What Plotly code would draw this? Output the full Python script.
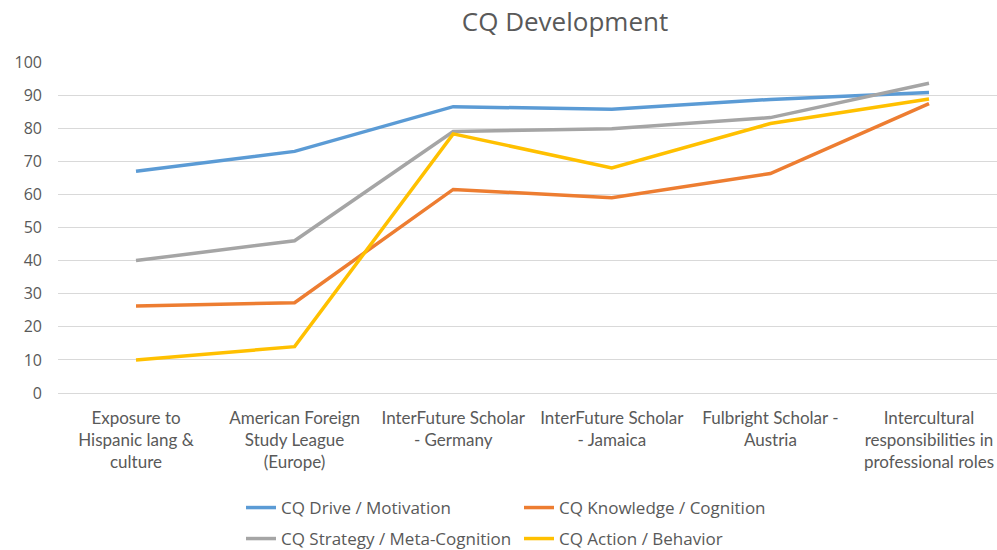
import plotly.graph_objects as go

categories = [
    "Exposure to<br>Hispanic lang &<br>culture",
    "American Foreign<br>Study League<br>(Europe)",
    "InterFuture Scholar<br>- Germany",
    "InterFuture Scholar<br>- Jamaica",
    "Fulbright Scholar -<br>Austria",
    "Intercultural<br>responsibilities in<br>professional roles",
]
drive = [67, 73, 86.5, 85.7, 88.7, 90.8]
knowledge = [26.3, 27.3, 61.5, 59, 66.3, 87.4]
strategy = [40, 46, 79, 79.8, 83.2, 93.6]
action = [10, 14, 78.3, 68, 81.4, 88.8]

series = [
    ("CQ Drive / Motivation", drive, "#5B9BD5", "legend"),
    ("CQ Knowledge / Cognition", knowledge, "#ED7D31", "legend"),
    ("CQ Strategy / Meta-Cognition", strategy, "#A5A5A5", "legend2"),
    ("CQ Action / Behavior", action, "#FFC000", "legend2"),
]

x_idx = list(range(len(categories)))
fig = go.Figure()
for name, vals, color, lg in series:
    fig.add_trace(go.Scatter(x=x_idx, y=vals, mode="lines", name=name,
                             line=dict(color=color, width=3.5), legend=lg))

# the page body margin is removed (post_script below), so figure px == page px
W, H = 997, 550
L, R, T = 58, 0, 62
B = H - 393
pw = W - L - R

def px_x(p):
    return (p - L) / pw

def cy(p):
    return 1 - p / H

legend_font = dict(family="Open Sans, Noto Sans, sans-serif", size=17, color="#595959")

fig.update_layout(
    width=W, height=H,
    margin=dict(l=L, r=R, t=T, b=B, autoexpand=False),
    paper_bgcolor="white", plot_bgcolor="white",
    title=dict(text="CQ Development", x=565 / W, xanchor="center",
               y=cy(22), yanchor="middle",
               font=dict(family="Open Sans, Noto Sans, sans-serif", size=26, color="#595959")),
    xaxis=dict(
        tickmode="array", tickvals=x_idx, ticktext=categories,
        range=[(58 - 136) / 158.6, (997 - 136) / 158.6],
        showgrid=False, zeroline=False, showline=False, ticks="",
        ticklabelstandoff=13,
        tickfont=dict(family="Lato, sans-serif", size=17, color="#595959"),
        tickangle=0,
    ),
    yaxis=dict(
        range=[0, 100], tickvals=list(range(0, 101, 10)),
        showgrid=True, gridcolor="#D9D9D9", gridwidth=1,
        zeroline=True, zerolinecolor="#D9D9D9", zerolinewidth=1,
        showline=False, ticks="", ticklabelstandoff=15,
        tickfont=dict(family="Open Sans, Noto Sans, sans-serif", size=16, color="#595959"),
    ),
    legend=dict(orientation="h", x=px_x(241), y=cy(490), yref="container", xanchor="left", yanchor="top",
                font=legend_font, entrywidth=233, entrywidthmode="pixels", bgcolor="rgba(0,0,0,0)"),
    legend2=dict(orientation="h", x=px_x(241), y=cy(521), yref="container", xanchor="left", yanchor="top",
                 font=legend_font, entrywidth=233, entrywidthmode="pixels", bgcolor="rgba(0,0,0,0)"),
    showlegend=True,
)

fig.write_html("out.html",
               config={"displayModeBar": False},
               post_script="document.body.style.margin='0';document.body.style.overflow='hidden';")
